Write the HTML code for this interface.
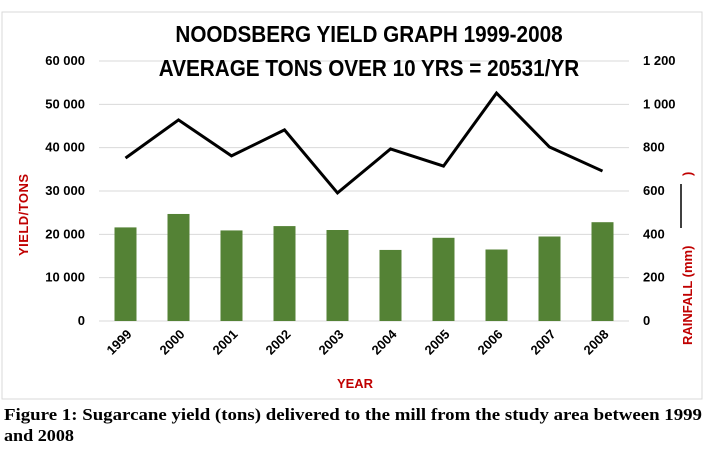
<!DOCTYPE html>
<html><head><meta charset="utf-8"><style>
body{margin:0;background:#fff;width:712px;height:451px;overflow:hidden}
svg{display:block;font-family:"Liberation Sans",sans-serif}
</style></head><body>
<svg id="chart" width="712" height="451">
<rect x="2" y="12" width="700" height="387" fill="#fff" stroke="#d9d9d9"/>
<g id="grid"></g><g id="bars"></g><g id="line"></g><g id="labels"></g>
<text x="369" y="42" text-anchor="middle" font-size="23" font-weight="bold" transform="translate(369 0) scale(0.9 1) translate(-369 0)">NOODSBERG YIELD GRAPH 1999-2008</text>
<text x="369" y="76" text-anchor="middle" font-size="23" font-weight="bold" transform="translate(369 0) scale(0.9 1) translate(-369 0)">AVERAGE TONS OVER 10 YRS = 20531/YR</text>
<text transform="translate(28 256) rotate(-90)" font-size="13" font-weight="bold" fill="#c00000" textLength="82">YIELD/TONS</text>
<text transform="translate(692 345) rotate(-90)" font-size="13" font-weight="bold" fill="#c00000">RAINFALL  (mm)</text>
<line x1="681" y1="184" x2="681" y2="228" stroke="#000" stroke-width="1.5"/>
<text transform="translate(692 176) rotate(-90)" font-size="13" font-weight="bold" fill="#c00000">)</text>
<text x="355" y="388" text-anchor="middle" font-size="13" font-weight="bold" fill="#c00000">YEAR</text>
<text x="4" y="420" font-family="Liberation Serif,serif" font-size="17" font-weight="bold" textLength="698" lengthAdjust="spacingAndGlyphs">Figure 1: Sugarcane yield (tons) delivered to the mill from the study area between 1999</text>
<text x="4" y="441" font-family="Liberation Serif,serif" font-size="17" font-weight="bold" textLength="70" lengthAdjust="spacingAndGlyphs">and 2008</text>
</svg>
<script>
const years=["1999","2000","2001","2002","2003","2004","2005","2006","2007","2008"];
const yieldTons=[21600,24700,20900,21900,21000,16400,19200,16500,19500,22800];
const rainfall=[752,928,762,882,591,794,715,1052,803,692];
const leftTicks=[0,10000,20000,30000,40000,50000,60000];
const leftTickLabels=["0","10 000","20 000","30 000","40 000","50 000","60 000"];
const rightTicks=[0,200,400,600,800,1000,1200];
const rightTickLabels=["0","200","400","600","800","1 000","1 200"];
const NS="http://www.w3.org/2000/svg";
const top0=61,bot0=321,left=99,right=629;
const yL=v=>bot0-(v/60000)*(bot0-top0);
const yR=v=>bot0-(v/1200)*(bot0-top0);
const step=(right-left)/years.length;
const xC=i=>left+step*(i+0.5);
function mk(tag,attrs,parent){const e=document.createElementNS(NS,tag);for(const k in attrs)e.setAttribute(k,attrs[k]);document.getElementById(parent).appendChild(e);return e;}
leftTicks.forEach((t,i)=>{
 const g=mk('line',{x1:left,x2:right,y1:yL(t),y2:yL(t),stroke:'#d9d9d9'},'grid');
 
 
 const l=mk('text',{x:85,y:yL(t)+4,'text-anchor':'end','font-size':13,'font-weight':'bold'},'labels');
 l.textContent=leftTickLabels[i];
 
 
});
rightTicks.forEach((t,i)=>{
 const l=mk('text',{x:643,y:yR(t)+4,'font-size':13,'font-weight':'bold'},'labels');
 l.textContent=rightTickLabels[i];
 
 
});
years.forEach((y,i)=>{
 const b=mk('rect',{x:xC(i)-11,y:yL(yieldTons[i]),width:22,height:bot0-yL(yieldTons[i]),fill:'#548235'},'bars');
 
 
 const t=mk('text',{transform:`translate(${xC(i)+7} ${bot0+14}) rotate(-45)`,'text-anchor':'end','font-size':13,'font-weight':'bold'},'labels');
 t.textContent=y;
 
 
});
const p=mk('polyline',{points:rainfall.map((v,i)=>xC(i)+','+yR(v)).join(' '),fill:'none',stroke:'#000','stroke-width':3,'stroke-linejoin':'miter'},'line');


</script>
</body></html>
